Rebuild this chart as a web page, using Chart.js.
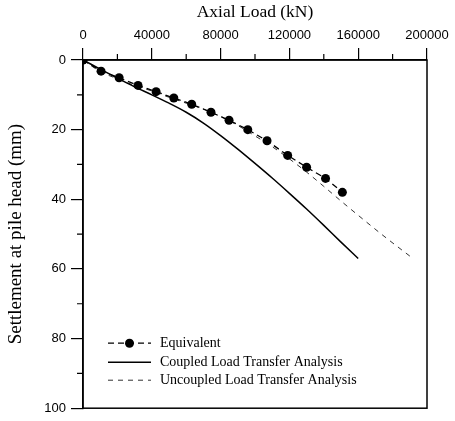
<!DOCTYPE html>
<html>
<head>
<meta charset="utf-8">
<script src="https://cdn.jsdelivr.net/npm/chart.js@4.4.1/dist/chart.umd.min.js"></script>
<style>
  html, body { margin: 0; padding: 0; background: #fff; }
  #wrap { width: 455px; height: 421px; }
</style>
</head>
<body>
<div id="wrap"><canvas id="c" width="455" height="421"></canvas></div>
<script>
// Axis tick values
const loadTicks = [0, 40000, 80000, 120000, 160000, 200000];
const settleTicks = [0, 20, 40, 60, 80, 100];

// Equivalent pile (markers)
const eqLoad   = [0, 10500, 21000, 32000, 42500, 52800, 63200, 74400, 84900, 95800, 107000, 119000, 130000, 141000, 150800];
const eqSettle = [0, 3.2, 5.1, 7.3, 9.1, 10.9, 12.7, 15.0, 17.3, 20.0, 23.2, 27.4, 30.8, 34.0, 38.0];

// Coupled load transfer analysis
const coupledLoad   = [0, 10000, 20000, 30000, 40000, 50000, 60000, 70000, 80000, 90000, 100000, 110000, 120000, 130000, 140000, 150000, 160000];
const coupledSettle = [0, 2.6, 5.2, 7.7, 10.0, 12.4, 15.0, 18.1, 21.7, 25.6, 29.7, 33.9, 38.3, 42.8, 47.5, 52.3, 57.0];

// Uncoupled load transfer analysis
const uncoupledLoad   = [0, 10000, 20000, 30000, 40000, 50000, 60000, 70000, 80000, 90000, 100000, 110000, 120000, 130000, 140000, 150000, 160000, 175000, 190500];
const uncoupledSettle = [0, 3.3, 5.4, 7.3, 8.9, 10.7, 12.4, 14.1, 16.2, 18.8, 21.8, 24.9, 28.4, 32.2, 36.3, 40.5, 44.6, 50.6, 56.5];

const seriesNames = ['Equivalent', 'Coupled Load Transfer Analysis', 'Uncoupled Load Transfer Analysis'];

const pts = (xs, ys) => xs.map((x, i) => ({ x, y: ys[i] }));

const serif = "'Liberation Serif', 'Times New Roman', serif";
const sans = "'Liberation Sans', Arial, sans-serif";

// Box around the plot plus the short minor ticks between labelled ones
const frameAndMinorTicks = {
  id: 'frameAndMinorTicks',
  afterDraw(chart) {
    const { ctx, chartArea: a, scales: { x, y } } = chart;
    ctx.save();
    ctx.strokeStyle = '#000';
    ctx.lineWidth = 1.5;
    ctx.strokeRect(a.left, a.top, a.right - a.left, a.bottom - a.top);
    ctx.lineWidth = 1.2;
    ctx.beginPath();
    for (let i = 0; i < loadTicks.length - 1; i++) {
      const px = x.getPixelForValue((loadTicks[i] + loadTicks[i + 1]) / 2);
      ctx.moveTo(px, a.top);
      ctx.lineTo(px, a.top - 6);
    }
    for (let i = 0; i < settleTicks.length - 1; i++) {
      const py = y.getPixelForValue((settleTicks[i] + settleTicks[i + 1]) / 2);
      ctx.moveTo(a.left, py);
      ctx.lineTo(a.left - 6, py);
    }
    ctx.stroke();
    ctx.restore();
  }
};

// Legend drawn inside the lower-left corner of the plot
const innerLegend = {
  id: 'innerLegend',
  afterDraw(chart) {
    const { ctx, chartArea: a } = chart;
    const x0 = a.left + 25, x1 = a.left + 68, tx = a.left + 77;
    const rows = [a.bottom - 65, a.bottom - 46, a.bottom - 28];
    ctx.save();
    chart.data.datasets.forEach((ds, i) => {
      const yy = rows[i];
      ctx.strokeStyle = ds.borderColor;
      ctx.lineWidth = ds.borderWidth;
      ctx.setLineDash(ds.borderDash || []);
      ctx.beginPath();
      ctx.moveTo(x0, yy);
      ctx.lineTo(x1, yy);
      ctx.stroke();
      if (ds.pointRadius > 0) {
        ctx.setLineDash([]);
        ctx.fillStyle = ds.pointBackgroundColor;
        ctx.beginPath();
        ctx.arc((x0 + x1) / 2, yy, ds.pointRadius, 0, Math.PI * 2);
        ctx.fill();
      }
      ctx.setLineDash([]);
      ctx.fillStyle = '#000';
      ctx.font = '14px ' + serif;
      ctx.textBaseline = 'middle';
      ctx.textAlign = 'left';
      ctx.fillText(ds.label, tx, yy);
    });
    ctx.restore();
  }
};

new Chart(document.getElementById('c'), {
  type: 'scatter',
  data: {
    datasets: [
      {
        label: seriesNames[0],
        data: pts(eqLoad, eqSettle),
        showLine: true,
        borderColor: '#000',
        borderWidth: 1.3,
        borderDash: [6, 4],
        pointRadius: 4.5,
        pointBackgroundColor: '#000',
        pointBorderWidth: 0
      },
      {
        label: seriesNames[1],
        data: pts(coupledLoad, coupledSettle),
        showLine: true,
        borderColor: '#000',
        borderWidth: 1.5,
        pointRadius: 0,
        cubicInterpolationMode: 'monotone'
      },
      {
        label: seriesNames[2],
        data: pts(uncoupledLoad, uncoupledSettle),
        showLine: true,
        borderColor: '#333',
        borderWidth: 1,
        borderDash: [5, 5],
        pointRadius: 0,
        cubicInterpolationMode: 'monotone'
      }
    ]
  },
  options: {
    responsive: false,
    animation: false,
    layout: { padding: { left: 0, top: 0, right: 28, bottom: 11 } },
    plugins: { legend: { display: false }, tooltip: { enabled: false } },
    scales: {
      x: {
        type: 'linear',
        position: 'top',
        min: 0,
        max: 200000,
        afterBuildTicks: s => { s.ticks = loadTicks.map(v => ({ value: v })); },
        afterFit: s => { s.height = 60; },
        ticks: { color: '#000', font: { family: sans, size: 13 }, padding: 5, maxRotation: 0, callback: v => String(v) },
        grid: { drawOnChartArea: false, tickLength: 12, color: '#000', lineWidth: 1.2 },
        border: { display: true, color: '#000', width: 1.5 },
        title: { display: true, text: 'Axial Load (kN)', color: '#000', font: { family: serif, size: 17.5 }, padding: { top: 2, bottom: 0 } }
      },
      y: {
        type: 'linear',
        position: 'left',
        reverse: true,
        min: 0,
        max: 100,
        afterBuildTicks: s => { s.ticks = settleTicks.map(v => ({ value: v })); },
        afterFit: s => { s.width = 83; },
        ticks: { color: '#000', font: { family: sans, size: 13 }, padding: 5, callback: v => String(v) },
        grid: { drawOnChartArea: false, tickLength: 12, color: '#000', lineWidth: 1.2 },
        border: { display: true, color: '#000', width: 1.5 },
        title: { display: true, text: 'Settlement at pile head (mm)', color: '#000', font: { family: serif, size: 19 }, padding: { top: 5, bottom: 0 } }
      }
    }
  },
  plugins: [frameAndMinorTicks, innerLegend]
});
</script>
</body>
</html>
